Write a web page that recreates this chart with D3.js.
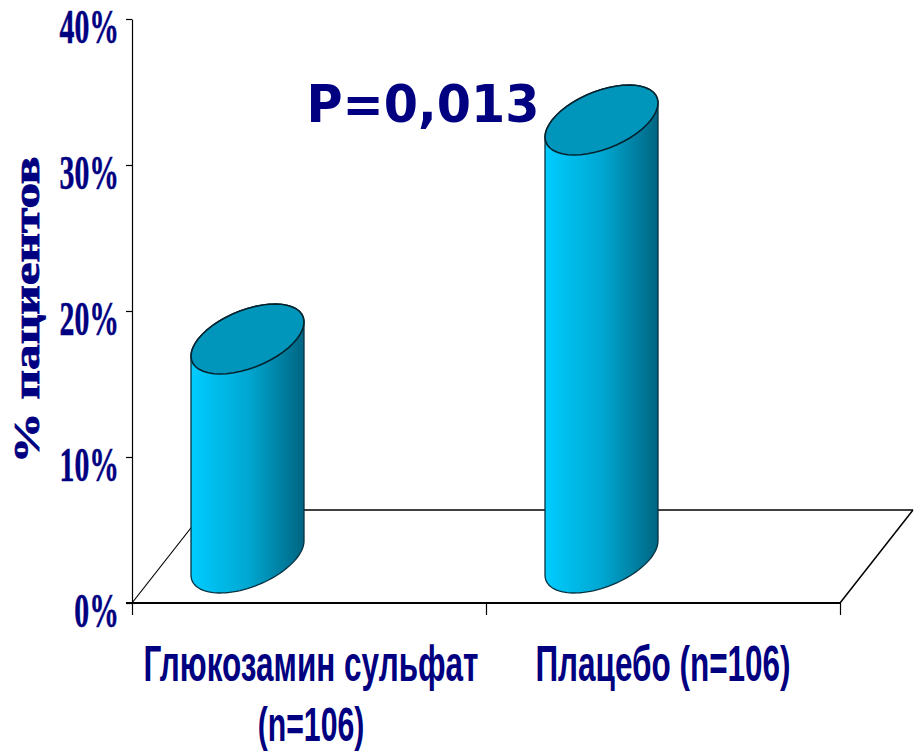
<!DOCTYPE html>
<html>
<head>
<meta charset="utf-8">
<script src="https://cdn.jsdelivr.net/npm/d3@7"></script>
<style>
    html, body { margin: 0; padding: 0; background: white; }
    svg { display: block; }
</style>
</head>
<body>
<svg id="chart"></svg>
<script>
const categories = ["Глюкозамин сульфат", "Плацебо (n=106)"]
const categoryLines = [["Глюкозамин сульфат", "(n=106)"], ["Плацебо (n=106)"]]
const values = [15, 30]
const yTicks = [0, 10, 20, 30, 40]
const yTitle = "% пациентов"
const pLabel = "P=0,013"

const navy = "#000080"
const svgw = 914
const svgh = 752

const svg = d3.select("#chart").attr("width", svgw).attr("height", svgh)

const yScale = d3.scaleLinear().domain([0, 40]).range([603, 19])
const xBand = d3.scaleBand().domain(categories).range([132, 840])

// depth of the floor, from front edge to back edge
const depthX = 73
const depthY = 93
const k = depthX / depthY

// gradient for the cylinder side
const grad = svg.append("defs").append("linearGradient").attr("id", "side")
grad.append("stop").attr("offset", "0%").attr("stop-color", "#00ccff")
grad.append("stop").attr("offset", "50%").attr("stop-color", "#00a8d2")
grad.append("stop").attr("offset", "100%").attr("stop-color", "#006582")

// floor
const floor = svg.append("g").attr("fill", "none").attr("stroke", "black")
const x0 = xBand.range()[0], x1 = xBand.range()[1], y0 = yScale(0)
floor.append("line").attr("x1", x0).attr("y1", y0).attr("x2", x0 + depthX).attr("y2", y0 - depthY).attr("stroke-width", 1.2)
floor.append("line").attr("x1", x1).attr("y1", y0).attr("x2", x1 + depthX).attr("y2", y0 - depthY).attr("stroke-width", 1.5)
floor.append("line").attr("x1", x0 + depthX).attr("y1", y0 - depthY).attr("x2", x1 + depthX).attr("y2", y0 - depthY).attr("stroke-width", 1.5)
floor.append("line").attr("x1", x0 - 6).attr("y1", y0).attr("x2", x1).attr("y2", y0).attr("stroke-width", 2)

// axes
const yAxis = d3.axisLeft(yScale).tickValues(yTicks).tickSize(6).tickSizeOuter(0).tickFormat("")
const yG = svg.append("g").attr("transform", `translate(${x0},0)`).call(yAxis)
yG.select(".domain").attr("stroke", "black").attr("stroke-width", 1.2)
yG.selectAll(".tick line").attr("stroke", "black").attr("stroke-width", 1.2)

const xEdges = d3.scaleLinear().domain([0, categories.length]).range(xBand.range())
const xAxis = d3.axisBottom(xEdges).tickValues(d3.range(categories.length + 1)).tickSize(12).tickSizeOuter(0).tickFormat("")
const xG = svg.append("g").attr("transform", `translate(0,${y0})`).call(xAxis)
xG.select(".domain").remove()
xG.selectAll(".tick line").attr("stroke", "black").attr("stroke-width", 1.2)

// cylinders
const barShift = -61.5
const barHalf = 56.5
const ry = 35
const rx = Math.sqrt(barHalf * barHalf - (k * ry) * (k * ry))
const t0 = Math.atan2(k * ry, rx)
const baseY = y0 - depthY / 2 + 1.5

const ellipsePt = (cx, cy, t) => [cx + rx * Math.cos(t) + k * ry * Math.sin(t), cy - ry * Math.sin(t)]
const arc = (cx, cy, from, to) => d3.range(0, 49).map(i => ellipsePt(cx, cy, from + (to - from) * i / 48))
const line = d3.line()

categories.forEach((c, i) => {
    const cx = xBand(c) + xBand.bandwidth() / 2 + barShift
    const h = y0 - yScale(values[i])
    const topY = baseY - h
    const lower = arc(cx, baseY, t0, t0 - Math.PI)
    const upper = arc(cx, topY, t0 + Math.PI, t0)
    svg.append("path")
        .attr("d", line(lower.concat(upper)) + "Z")
        .attr("fill", "url(#side)")
        .attr("stroke", "#06303f")
        .attr("stroke-width", 1.3)
    svg.append("path")
        .attr("d", line(arc(cx, topY, 0, 2 * Math.PI)) + "Z")
        .attr("fill", "#0096bc")
        .attr("stroke", "#04222e")
        .attr("stroke-width", 1.6)
})

// condensed text is plain text squeezed with a scale
const scaledText = (x, y, txt, size, family, weight, sx, anchor) => {
    return svg.append("text")
        .attr("transform", `translate(${x},${y}) scale(${sx},1)`)
        .attr("text-anchor", anchor)
        .attr("font-family", family)
        .attr("font-weight", weight)
        .attr("font-size", size)
        .attr("fill", navy)
        .text(txt)
}

yTicks.forEach(d => {
    scaledText(119, yScale(d) + 24, d + "%", 48, "Liberation Serif", "bold", 0.62, "end")
        .attr("stroke", navy).attr("stroke-width", 0.5)
})

categoryLines.forEach((lines, i) => {
    const cx = xBand(categories[i]) + xBand.bandwidth() / 2
    lines.forEach((l, j) => {
        const size = j === 0 ? 50 : 48
        scaledText(cx + (i === 0 ? 2 : 0), 681 + j * 60, l, size, "Liberation Sans", "bold", 0.63, "middle")
    })
})

svg.append("text")
    .attr("transform", "translate(39,310) rotate(-90)")
    .attr("text-anchor", "middle")
    .attr("font-family", "Liberation Serif")
    .attr("font-weight", "bold")
    .attr("font-size", 35)
    .attr("fill", navy)
    .attr("stroke", navy)
    .attr("stroke-width", 0.8)
    .attr("textLength", 307)
    .attr("lengthAdjust", "spacingAndGlyphs")
    .text(yTitle)

scaledText(423, 122, pLabel, 52, "DejaVu Sans", "bold", 0.947, "middle")
</script>
</body>
</html>
